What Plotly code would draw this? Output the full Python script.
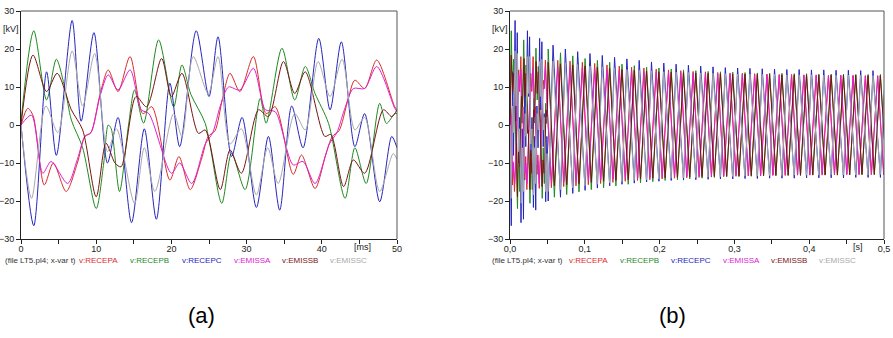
import plotly.graph_objects as go

W, H = 893, 338

NAMES = ["v:RECEPA", "v:RECEPB", "v:RECEPC", "v:EMISSA", "v:EMISSB", "v:EMISSC"]
COLORS = ["#dd2a2a", "#1f8a1f", "#2525c0", "#e020d0", "#7a1414", "#a9a9a9"]
FILE_LABEL = "(file LT5.pl4; x-var t)"

# ---------------- (a) readings: time [ms], voltage [kV] ----------------
RECEPA_T = [0, 0.9, 1.6, 3.1, 4.3, 6.0, 7.5, 8.5, 9.3, 10.5, 11.6, 12.9, 14.5, 16.2, 17.4, 19.8, 21.0, 22.5,
            24.0, 24.9, 25.8, 26.8, 27.8, 29.1, 30.9, 32.6, 33.8, 36.2, 37.3, 39.1, 40.5, 41.4, 42.3, 43.4,
            44.4, 45.7, 47.3, 49.7, 50]
RECEPA_V = [0, 4.4, 2.5, -15.8, -10, -17.5, -10, -3, -2, 8, 14.5, 8.8, 18, 3, 4.8, -14.5, -8.3, -17,
            -9, -3, -1.5, 7, 13.6, 8.8, 18, 3, 4.8, -13, -7.9, -16.7, -8, -3, -1.5, 6,
            11.8, 9.6, 17.1, 4.8, 4]

RECEPB_T = [0, 1.7, 3.4, 4.7, 5.8, 6.7, 8.2, 10.0, 11.0, 11.6, 12.0, 13.1, 14.3, 15.1, 16.3, 18.3, 20.3,
            21.4, 22.6, 24.5, 26.7, 28.0, 29.8, 31.8, 32.6, 34.7, 36.4, 37.8, 39.1, 40.9, 43.1, 44.4,
            45.9, 47.7, 48.6, 49.7, 50]
RECEPB_V = [1, 24.8, 6.6, 17.3, 10, 1.3, -6, -22, -10, 0, -1, -17.5, 0, 9.2, 0.5, 22.4, 4.8,
            15.8, 8, 0.4, -20.6, -7.5, -17, 7, 0.5, 20.2, 6.6, 15.4, 8.3, 0.4, -19.3, -6,
            -15.4, 5.7, 0.4, 3, 3]

RECEPC_T = [0, 1.7, 3.4, 4.7, 6.8, 8.0, 9.7, 11.5, 12.9, 14.7, 16.4, 18.0, 19.8, 21.1, 23.3, 25.0, 26.2,
            28.0, 29.4, 31.3, 32.9, 34.4, 36.0, 37.5, 39.6, 41.1, 42.6, 44.4, 45.7, 47.7, 49.3, 50]
RECEPC_V = [0, -26.5, 14, -8, 27.5, 1, 24.3, -10, 2, -25.7, -1, -24.8, 11, -5.7, 24.8, 7.5, 23.2,
            -8.3, 2, -21.7, -3, -22.4, 5, -6, 22.8, 4, 21.9, -5.7, 3, -20.2, -3, -6]

EMISSA_T = [0, 1.4, 2.9, 4.0, 6.2, 7.5, 8.5, 9.3, 10.5, 11.6, 12.9, 14.5, 16.0, 17.0, 20.0, 21.1, 22.7,
            24.5, 25.5, 26.5, 27.6, 29.1, 30.9, 32.5, 33.8, 36.2, 37.5, 39.1, 41.0, 42.0, 43.0, 44.2,
            45.7, 47.3, 49.7, 50]
EMISSA_V = [0, 2.6, -12.7, -9.6, -15.4, -9, -3, -2, 7.5, 13.2, 9.2, 14.5, 4, 3, -12.7, -10, -15.4,
            -5, -2, 5, 10, 9.2, 14.9, 4, 3.5, -10.5, -9.6, -15.4, -5, -2, 4, 9.6,
            9.6, 15.4, 4.4, 3.5]

EMISSB_T = [0, 1.6, 3.4, 4.8, 6.7, 8.2, 10.0, 11.3, 12.5, 13.3, 15.3, 16.7, 18.7, 20.0, 21.4, 23.6, 24.5,
            26.5, 27.8, 29.3, 31.6, 32.9, 34.9, 36.4, 37.8, 40.4, 41.2, 42.9, 44.2, 45.7, 48.2, 49.3, 50]
EMISSB_V = [0, 18.4, 8.8, 13.6, 4, -1.3, -18.9, -4.8, -10, -11, 7.5, 4.8, 17.5, 7.5, 13.6, -2.2, -1.3,
            -17, -6.6, -12.7, 4, 2.2, 16.7, 8.3, 14, -3, -2.5, -16.2, -9.2, -12.7, 4, 2.2, 4]

EMISSC_T = [0, 1.4, 3.3, 4.9, 6.8, 8.2, 9.8, 11.5, 12.7, 15.1, 16.4, 17.8, 20.3, 21.4, 22.9, 24.9, 26.2,
            27.8, 29.3, 31.3, 32.8, 34.2, 36.4, 37.8, 39.5, 41.1, 42.7, 44.4, 45.7, 47.7, 49.5, 50]
EMISSC_V = [0, -19.3, 5, -2, 19.5, 5, 18.8, -7, -1, -20.6, -6, -17.5, 3, -3, 18, 8.3, 18,
            -5, -1, -18.4, -6, -15.4, 3, -1.3, 16.7, 7.5, 17.3, -1.3, 2, -17.5, -7.5, -9]

# ---------------- (b) readings after 50 ms: one max / one min per cycle ----------------
CYCLE_START_S = [0.04935, 0.06580, 0.08225, 0.09870, 0.11515, 0.13160, 0.14805, 0.16450, 0.18095, 0.19740,
                 0.21385, 0.23030, 0.24675, 0.26320, 0.27965, 0.29610, 0.31255, 0.32900, 0.34545, 0.36190,
                 0.37835, 0.39480, 0.41125, 0.42770, 0.44415, 0.46060, 0.47705, 0.49350]

RECEPA_MAX = [17.0, 16.8, 16.5, 16.2, 15.8, 15.5, 15.2, 15.0, 14.7, 14.5, 14.3, 14.1, 14.0, 13.8,
              13.7, 13.6, 13.5, 13.4, 13.3, 13.3, 13.2, 13.2, 13.1, 13.1, 13.1, 13.0, 13.0, 13.0]
RECEPA_MIN = [-16.5, -16.2, -16.0, -15.7, -15.4, -15.1, -14.8, -14.6, -14.4, -14.2, -14.0, -13.9, -13.8, -13.7,
              -13.6, -13.5, -13.4, -13.4, -13.3, -13.3, -13.2, -13.2, -13.2, -13.1, -13.1, -13.1, -13.1, -13.1]
RECEPB_MAX = [20.0, 19.0, 18.2, 17.5, 17.0, 16.5, 16.0, 15.6, 15.2, 15.0, 14.7, 14.5, 14.3, 14.1,
              14.0, 13.9, 13.8, 13.7, 13.6, 13.6, 13.5, 13.5, 13.4, 13.4, 13.4, 13.3, 13.3, 13.3]
RECEPB_MIN = [-19.0, -18.3, -17.6, -17.0, -16.5, -16.0, -15.6, -15.2, -14.9, -14.6, -14.4, -14.2, -14.0, -13.8,
              -13.7, -13.6, -13.5, -13.4, -13.4, -13.3, -13.3, -13.2, -13.2, -13.2, -13.1, -13.1, -13.1, -13.1]
RECEPC_MAX = [21.0, 20.0, 19.3, 18.8, 18.3, 17.8, 17.4, 17.0, 16.6, 16.3, 16.0, 15.7, 15.5, 15.3,
              15.1, 15.0, 14.9, 14.8, 14.7, 14.6, 14.6, 14.5, 14.5, 14.4, 14.4, 14.3, 14.3, 14.3]
RECEPC_MIN = [-20.0, -19.0, -18.0, -17.2, -16.6, -16.0, -15.6, -15.3, -15.0, -14.8, -14.6, -14.5, -14.4, -14.3,
              -14.2, -14.2, -14.1, -14.1, -14.0, -14.0, -14.0, -13.9, -13.9, -13.9, -13.9, -13.8, -13.8, -13.8]
EMISSA_MAX = [15.3, 15.1, 14.9, 14.7, 14.5, 14.3, 14.1, 14.0, 13.9, 13.8, 13.7, 13.6, 13.5, 13.4,
              13.3, 13.3, 13.2, 13.2, 13.1, 13.1, 13.1, 13.0, 13.0, 13.0, 12.9, 12.9, 12.9, 12.9]
EMISSA_MIN = [-15.2, -15.0, -14.8, -14.6, -14.4, -14.2, -14.0, -13.9, -13.8, -13.7, -13.6, -13.5, -13.4, -13.3,
              -13.3, -13.2, -13.2, -13.1, -13.1, -13.0, -13.0, -13.0, -12.9, -12.9, -12.9, -12.9, -12.9, -12.9]
EMISSB_MAX = [16.5, 16.1, 15.8, 15.5, 15.2, 14.9, 14.6, 14.4, 14.2, 14.0, 13.9, 13.8, 13.7, 13.6,
              13.5, 13.4, 13.4, 13.3, 13.3, 13.2, 13.2, 13.2, 13.1, 13.1, 13.1, 13.1, 13.0, 13.0]
EMISSB_MIN = [-16.0, -15.7, -15.4, -15.1, -14.8, -14.6, -14.4, -14.2, -14.0, -13.9, -13.8, -13.7, -13.6, -13.5,
              -13.4, -13.4, -13.3, -13.3, -13.2, -13.2, -13.2, -13.1, -13.1, -13.1, -13.1, -13.0, -13.0, -13.0]
EMISSC_MAX = [16.8, 16.3, 15.9, 15.5, 15.2, 14.9, 14.6, 14.4, 14.2, 14.0, 13.9, 13.8, 13.7, 13.6,
              13.5, 13.4, 13.4, 13.3, 13.3, 13.2, 13.2, 13.2, 13.1, 13.1, 13.1, 13.1, 13.0, 13.0]
EMISSC_MIN = [-17.5, -17.0, -16.5, -16.0, -15.6, -15.2, -14.9, -14.6, -14.4, -14.2, -14.0, -13.9, -13.8, -13.7,
              -13.6, -13.5, -13.4, -13.4, -13.3, -13.3, -13.2, -13.2, -13.2, -13.1, -13.1, -13.1, -13.1, -13.0]

# phase (ms within a cycle) of the first and second extreme
PHASES = {
    "v:RECEPA": (6.0, 14.5), "v:RECEPB": (1.7, 10.0), "v:RECEPC": (1.7, 8.2),
    "v:EMISSA": (6.2, 14.5), "v:EMISSB": (1.6, 10.0), "v:EMISSC": (1.4, 8.2),
}

A_DATA = {
    "v:RECEPA": (RECEPA_T, RECEPA_V, RECEPA_MIN, RECEPA_MAX),
    "v:RECEPB": (RECEPB_T, RECEPB_V, RECEPB_MAX, RECEPB_MIN),
    "v:RECEPC": (RECEPC_T, RECEPC_V, RECEPC_MIN, RECEPC_MAX),
    "v:EMISSA": (EMISSA_T, EMISSA_V, EMISSA_MIN, EMISSA_MAX),
    "v:EMISSB": (EMISSB_T, EMISSB_V, EMISSB_MAX, EMISSB_MIN),
    "v:EMISSC": (EMISSC_T, EMISSC_V, EMISSC_MIN, EMISSC_MAX),
}

FONT = "Liberation Sans, Arial, sans-serif"
fig = go.Figure()

for name, color in zip(NAMES, COLORS):
    ta, va, first, second = A_DATA[name]
    fig.add_trace(go.Scatter(x=ta, y=va, mode="lines", line=dict(color=color, width=1, shape="spline", smoothing=0.8),
                             xaxis="x", yaxis="y", showlegend=False, hoverinfo="skip"))
    p1, p2 = PHASES[name]
    xb = [t / 1000.0 for t in ta]
    yb = list(va)
    for cs, a, b in zip(CYCLE_START_S, first, second):
        xb += [cs + p1 / 1000.0, cs + p2 / 1000.0]
        yb += [a, b]
    fig.add_trace(go.Scatter(x=xb, y=yb, mode="lines", line=dict(color=color, width=1),
                             xaxis="x2", yaxis="y2", showlegend=False, hoverinfo="skip"))


def px_x(p):
    return p / W


def px_y(p):
    return 1 - p / H


L0, L1, R0, R1, T0, B0 = 21, 397, 510, 884, 11, 239

axis_common = dict(showgrid=False, zeroline=False, showline=True, linecolor="#222", linewidth=1,
                   ticks="outside", ticklen=4, tickcolor="#222", tickwidth=1, automargin=False,
                   tickfont=dict(family=FONT, size=9, color="#222"))

fig.update_layout(
    width=W, height=H, margin=dict(l=0, r=0, t=0, b=0, pad=0), autosize=False,
    paper_bgcolor="white", plot_bgcolor="white",
    xaxis=dict(domain=[px_x(L0), px_x(L1)], range=[0, 50], anchor="y", ticklabelstandoff=-3,
               tickvals=[0, 10, 20, 30, 40, 50], ticktext=["0", "10", "20", "30", "40", "50"],
               minor=dict(dtick=5, tick0=0, ticks="outside", ticklen=4, tickcolor="#222"), **axis_common),
    yaxis=dict(domain=[px_y(B0), px_y(T0)], range=[-30, 30], anchor="x",
               tickvals=[-30, -20, -10, 0, 10, 20, 30], **axis_common),
    xaxis2=dict(domain=[px_x(R0), px_x(R1)], range=[0, 0.5], anchor="y2", ticklabelstandoff=-3,
                tickvals=[0, 0.1, 0.2, 0.3, 0.4, 0.5], ticktext=["0,0", "0,1", "0,2", "0,3", "0,4", "0,5"],
                minor=dict(dtick=0.05, tick0=0, ticks="outside", ticklen=4, tickcolor="#222"), **axis_common),
    yaxis2=dict(domain=[px_y(B0), px_y(T0)], range=[-30, 30], anchor="x2",
                tickvals=[-30, -20, -10, 0, 10, 20, 30], **axis_common),
)

shapes = []
for x0, x1 in ((L0, L1), (R0, R1)):
    shapes.append(dict(type="line", xref="paper", yref="paper", x0=px_x(x0), x1=px_x(x1), y0=px_y(T0), y1=px_y(T0),
                       line=dict(color="#555", width=1)))
    shapes.append(dict(type="line", xref="paper", yref="paper", x0=px_x(x1), x1=px_x(x1), y0=px_y(T0), y1=px_y(B0),
                       line=dict(color="#555", width=1)))
fig.update_layout(shapes=shapes)

ann = []


def add_text(text, x, y, size, color="#222", xanchor="center"):
    ann.append(dict(text=text, x=px_x(x), y=px_y(y), xref="paper", yref="paper", showarrow=False,
                    xanchor=xanchor, yanchor="middle", font=dict(family=FONT, size=size, color=color)))


add_text("[kV]", 11, 29, 9)
add_text("[kV]", 500, 29, 9)
add_text("[ms]", 362, 247, 9)
add_text("[s]", 858, 247, 9)

LEFT_X = [77, 128, 180, 232, 280, 328]
RIGHT_X = [567, 618, 669, 721, 769, 817]
add_text(FILE_LABEL, 2.5, 260, 8, "#333", "left")
add_text(FILE_LABEL, 490, 260, 8, "#333", "left")
for name, color, lx, rx in zip(NAMES, COLORS, LEFT_X, RIGHT_X):
    add_text(name, lx, 260, 8, color, "left")
    add_text(name, rx, 260, 8, color, "left")

add_text("(a)", 201, 315, 22, "#000")
add_text("(b)", 672, 315, 22, "#000")

fig.update_layout(annotations=ann)
fig.write_html("out.html")
